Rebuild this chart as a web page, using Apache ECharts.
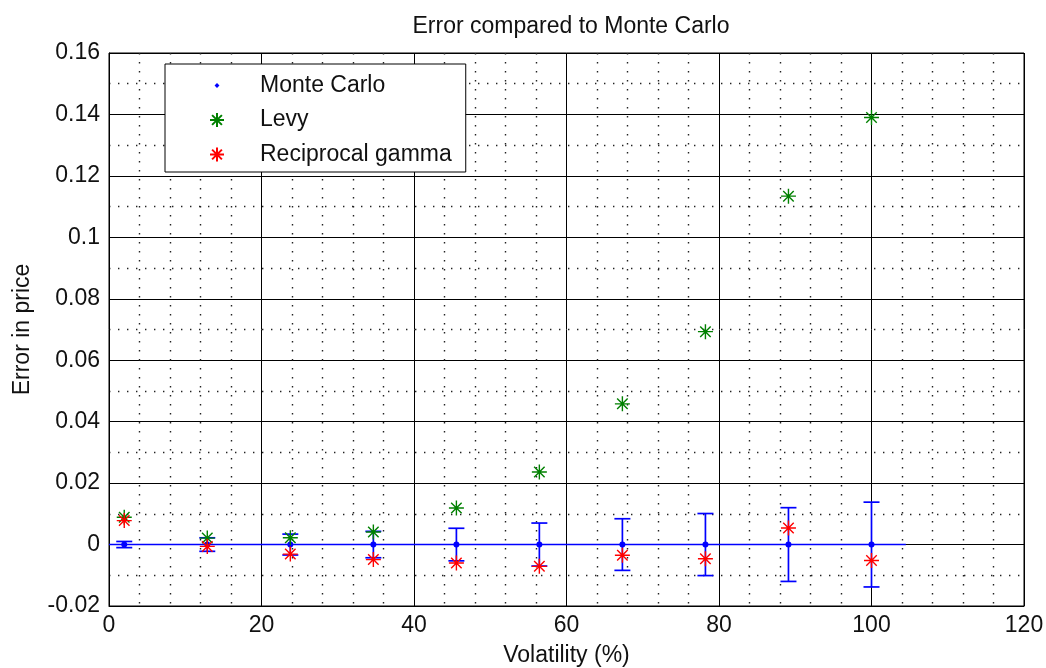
<!DOCTYPE html>
<html>
<head>
<meta charset="utf-8">
<script src="https://cdn.jsdelivr.net/npm/echarts@6/dist/echarts.min.js"></script>
<style>
html,body{margin:0;padding:0;background:#fff;}
#chart{width:1046px;height:668px;}
</style>
</head>
<body>
<div id="chart"></div>
<script>
// ---- data ----
const volatility = [2, 12.89, 23.78, 34.67, 45.56, 56.44, 67.33, 78.22, 89.11, 100];
const monteCarlo = [0, 0, 0, 0, 0, 0, 0, 0, 0, 0];
const monteCarloErr = [0.001, 0.0022, 0.0034, 0.0043, 0.0053, 0.0070, 0.0084, 0.0101, 0.0120, 0.0138];
const levy = [0.0089, 0.0021, 0.0022, 0.0041, 0.0119, 0.0236, 0.0458, 0.0693, 0.1134, 0.139];
const reciprocalGamma = [0.0078, -0.0006, -0.0031, -0.0049, -0.0060, -0.0071, -0.0035, -0.0046, 0.0054, -0.0052];
const zeroLineX = [0, 104.5];
const xTicks = [0, 20, 40, 60, 80, 100, 120];
const yTicks = [-0.02, 0, 0.02, 0.04, 0.06, 0.08, 0.1, 0.12, 0.14, 0.16];
const yTickLabels = ['-0.02', '0', '0.02', '0.04', '0.06', '0.08', '0.1', '0.12', '0.14', '0.16'];
const seriesNames = ['Monte Carlo', 'Levy', 'Reciprocal gamma'];

// ---- styles ----
const FONT = "'Liberation Sans', Arial, sans-serif";
const TXT = '#111';
const BLUE = '#0000ff', GREEN = '#008000', RED = '#ff0000';
const STAR = 'path://M0 -10 L0 10 M-10 0 L10 0 M-7 -7 L7 7 M-7 7 L7 -7';
const DOT_ICON = 'path://M-10 -10 M10 10 M0 -3.5 L3.5 0 L0 3.5 L-3.5 0 Z';
const dotted = {color: '#222', width: 1.4, type: [1.4, 7.6]};

const chart = echarts.init(document.getElementById('chart'), null, {renderer: 'canvas'});

const option = {
  backgroundColor: '#fff',
  animation: false,
  title: {
    text: 'Error compared to Monte Carlo',
    left: 566, textAlign: 'center', top: 10,
    textStyle: {fontFamily: FONT, fontSize: 23, fontWeight: 'normal', color: TXT}
  },
  grid: {left: 109, right: 22, top: 53, bottom: 62, show: true, borderColor: '#000', borderWidth: 1, backgroundColor: '#fff', outerBoundsMode: 'none', containLabel: false},
  legend: {
    orient: 'vertical', left: 165, top: 64,
    backgroundColor: '#fff', borderColor: '#000', borderWidth: 1,
    padding: [10, 14, 6, 44],
    itemWidth: 14, itemHeight: 14, itemGap: 11.5,
    symbolKeepAspect: true,
    textStyle: {fontFamily: FONT, fontSize: 23, color: TXT, lineHeight: 23, padding: [0, 0, 0, 31]},
    data: [
      {name: seriesNames[0], icon: DOT_ICON},
      {name: seriesNames[1], icon: STAR},
      {name: seriesNames[2], icon: STAR}
    ]
  },
  xAxis: {
    type: 'value', min: xTicks[0], max: xTicks[xTicks.length - 1], interval: xTicks[1] - xTicks[0],
    name: 'Volatility (%)', nameLocation: 'middle', nameGap: 38,
    nameTextStyle: {fontFamily: FONT, fontSize: 23, color: TXT},
    axisLine: {show: true, onZero: false, lineStyle: {color: '#000', width: 1}},
    axisTick: {show: false},
    axisLabel: {fontFamily: FONT, fontSize: 23, color: TXT, margin: 8},
    splitLine: {show: true, lineStyle: {color: '#000', width: 1}},
    minorTick: {show: false, splitNumber: 5},
    minorSplitLine: {show: true, lineStyle: dotted}
  },
  yAxis: {
    type: 'value', min: yTicks[0], max: yTicks[yTicks.length - 1], interval: yTicks[1] - yTicks[0],
    name: 'Error in price', nameLocation: 'middle', nameGap: 75,
    nameTextStyle: {fontFamily: FONT, fontSize: 23, color: TXT},
    axisLine: {show: true, onZero: false, lineStyle: {color: '#000', width: 1}},
    axisTick: {show: false},
    axisLabel: {
      fontFamily: FONT, fontSize: 23, color: TXT, margin: 9,
      formatter: function (v) {
        let best = 0, bd = Infinity;
        yTicks.forEach((t, i) => { const d = Math.abs(t - v); if (d < bd) { bd = d; best = i; } });
        return yTickLabels[best];
      }
    },
    splitLine: {show: true, lineStyle: {color: '#000', width: 1}},
    minorTick: {show: false, splitNumber: 2},
    minorSplitLine: {show: true, lineStyle: dotted}
  },
  series: [
    {
      name: 'zero', type: 'line', silent: true, symbol: 'none',
      data: zeroLineX.map(x => [x, 0]),
      lineStyle: {color: BLUE, width: 1.5}, z: 3
    },
    {
      name: 'MC error', type: 'custom', silent: true, z: 4,
      data: volatility.map((x, i) => [x, monteCarlo[i] - monteCarloErr[i], monteCarlo[i] + monteCarloErr[i]]),
      encode: {x: 0, y: [1, 2]},
      renderItem: function (params, api) {
        const x = api.value(0);
        const lo = api.coord([x, api.value(1)]);
        const hi = api.coord([x, api.value(2)]);
        const hw = 8;
        const st = {stroke: BLUE, lineWidth: 1.7, fill: null};
        return {
          type: 'group', children: [
            {type: 'line', shape: {x1: lo[0], y1: lo[1], x2: hi[0], y2: hi[1]}, style: st},
            {type: 'line', shape: {x1: lo[0] - hw, y1: lo[1], x2: lo[0] + hw, y2: lo[1]}, style: st},
            {type: 'line', shape: {x1: hi[0] - hw, y1: hi[1], x2: hi[0] + hw, y2: hi[1]}, style: st}
          ]
        };
      }
    },
    {
      name: seriesNames[0], type: 'scatter', z: 5,
      symbol: 'circle', symbolSize: 6,
      data: volatility.map((x, i) => [x, monteCarlo[i]]),
      itemStyle: {color: BLUE, opacity: 1}
    },
    {
      name: seriesNames[1], type: 'scatter', z: 6,
      symbol: STAR, symbolSize: 15,
      data: volatility.map((x, i) => [x, levy[i]]),
      itemStyle: {color: GREEN, borderColor: GREEN, borderWidth: 1.4, opacity: 1}
    },
    {
      name: seriesNames[2], type: 'scatter', z: 7,
      symbol: STAR, symbolSize: 15,
      data: volatility.map((x, i) => [x, reciprocalGamma[i]]),
      itemStyle: {color: RED, borderColor: RED, borderWidth: 1.4, opacity: 1}
    }
  ]
};
chart.setOption(option);
</script>
</body>
</html>
